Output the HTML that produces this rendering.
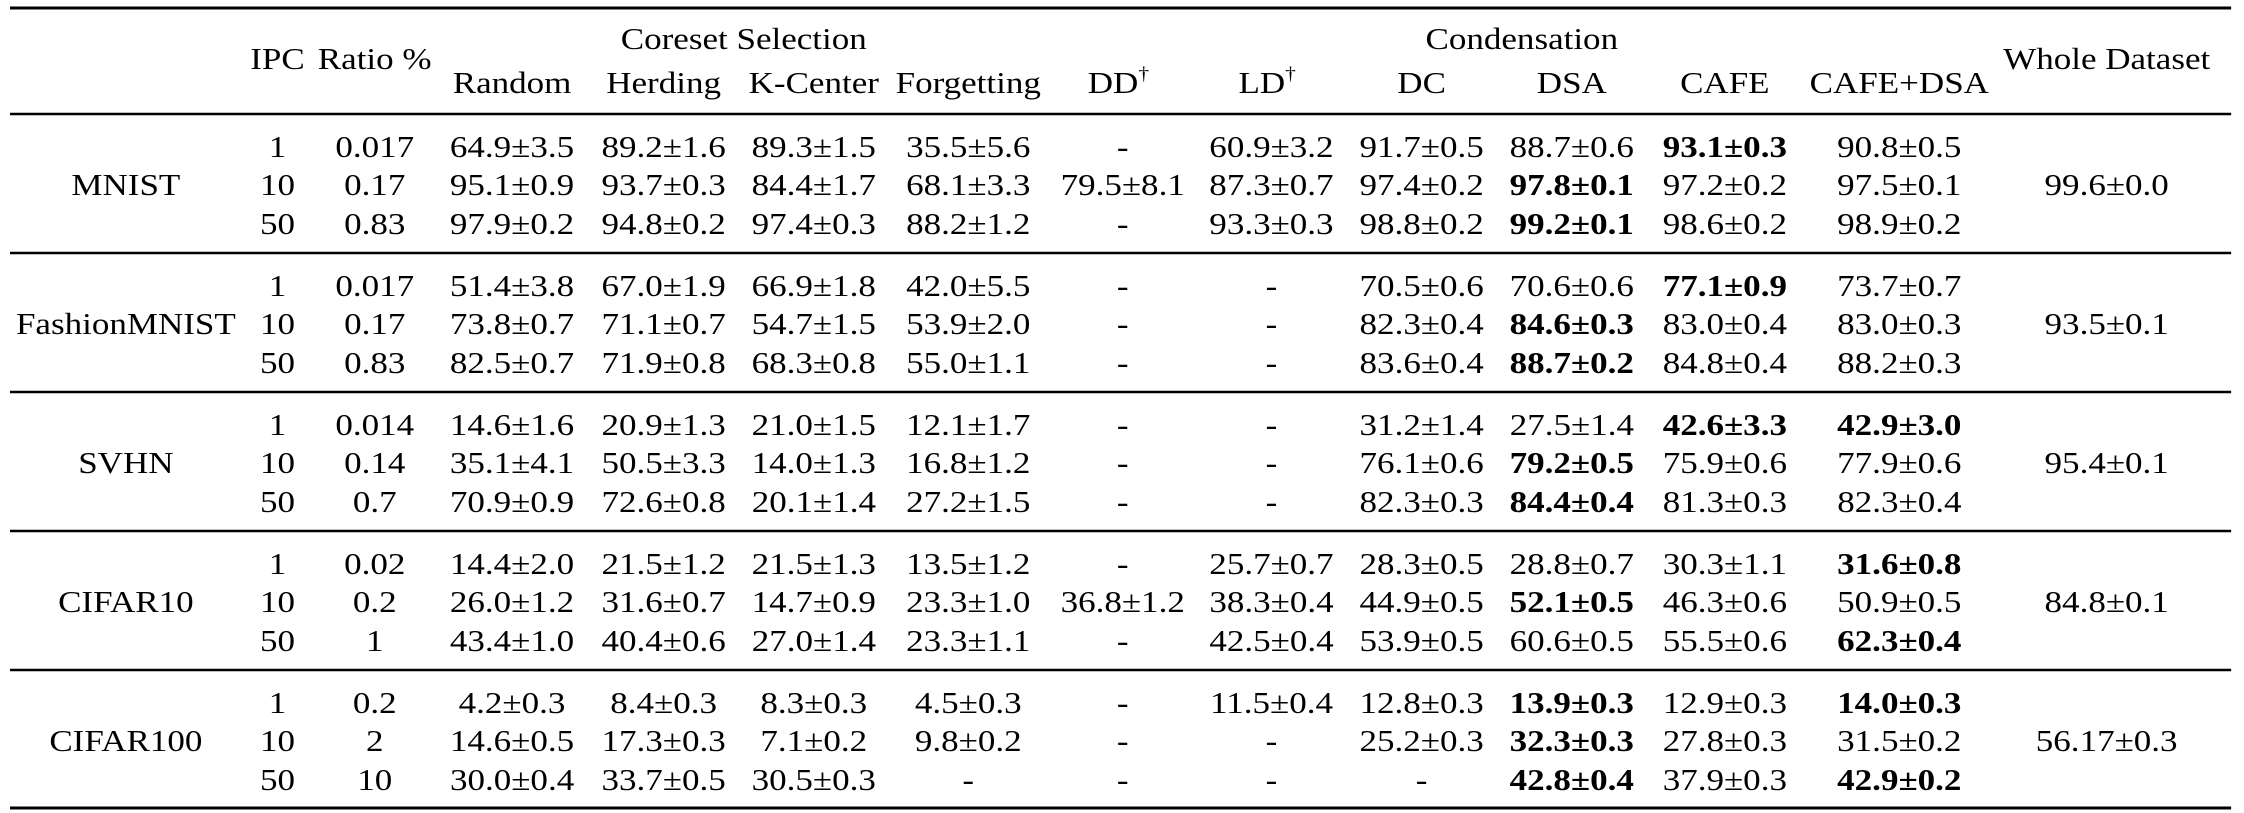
<!DOCTYPE html>
<html><head><meta charset="utf-8"><style>
html,body{margin:0;padding:0;background:#fff;width:2244px;height:813px;overflow:hidden}
svg{display:block}
text{font-family:"Liberation Serif",serif;font-size:31px;fill:#000;text-anchor:middle;transform-box:fill-box;transform-origin:center;transform:scaleX(0.79)}
.b{font-weight:bold}
</style></head><body>
<svg width="2244" height="813" viewBox="0 0 1569 813" preserveAspectRatio="none" xmlns="http://www.w3.org/2000/svg">
<g stroke="#000">
<line x1="7" x2="1560" y1="8" y2="8" stroke-width="3"/>
<line x1="7" x2="1560" y1="114" y2="114" stroke-width="2.5"/>
<line x1="7" x2="1560" y1="253" y2="253" stroke-width="2.5"/>
<line x1="7" x2="1560" y1="392" y2="392" stroke-width="2.5"/>
<line x1="7" x2="1560" y1="531" y2="531" stroke-width="2.5"/>
<line x1="7" x2="1560" y1="670" y2="670" stroke-width="2.5"/>
<line x1="7" x2="1560" y1="808" y2="808" stroke-width="3"/>
</g>
<text x="520" y="49">Coreset Selection</text>
<text x="1064" y="49">Condensation</text>
<text x="194" y="69">IPC</text>
<text x="262" y="69">Ratio %</text>
<text x="1473" y="69">Whole Dataset</text>
<text x="358" y="93">Random</text><text x="464" y="93">Herding</text><text x="569" y="93">K-Center</text><text x="677" y="93">Forgetting</text>
<text x="782" y="93">DD<tspan font-size="19" dy="-13">†</tspan></text>
<text x="886" y="93">LD<tspan font-size="19" dy="-13">†</tspan></text>
<text x="994" y="93">DC</text><text x="1099" y="93">DSA</text><text x="1206" y="93">CAFE</text><text x="1328" y="93">CAFE+DSA</text>

<!-- MNIST -->
<text x="88" y="195">MNIST</text><text x="1473" y="195">99.6±0.0</text>
<text x="194" y="157">1</text><text x="262" y="157">0.017</text><text x="358" y="157">64.9±3.5</text><text x="464" y="157">89.2±1.6</text><text x="569" y="157">89.3±1.5</text><text x="677" y="157">35.5±5.6</text><text x="785" y="157">-</text><text x="889" y="157">60.9±3.2</text><text x="994" y="157">91.7±0.5</text><text x="1099" y="157">88.7±0.6</text><text x="1206" y="157" class="b">93.1±0.3</text><text x="1328" y="157">90.8±0.5</text>
<text x="194" y="195">10</text><text x="262" y="195">0.17</text><text x="358" y="195">95.1±0.9</text><text x="464" y="195">93.7±0.3</text><text x="569" y="195">84.4±1.7</text><text x="677" y="195">68.1±3.3</text><text x="785" y="195">79.5±8.1</text><text x="889" y="195">87.3±0.7</text><text x="994" y="195">97.4±0.2</text><text x="1099" y="195" class="b">97.8±0.1</text><text x="1206" y="195">97.2±0.2</text><text x="1328" y="195">97.5±0.1</text>
<text x="194" y="234">50</text><text x="262" y="234">0.83</text><text x="358" y="234">97.9±0.2</text><text x="464" y="234">94.8±0.2</text><text x="569" y="234">97.4±0.3</text><text x="677" y="234">88.2±1.2</text><text x="785" y="234">-</text><text x="889" y="234">93.3±0.3</text><text x="994" y="234">98.8±0.2</text><text x="1099" y="234" class="b">99.2±0.1</text><text x="1206" y="234">98.6±0.2</text><text x="1328" y="234">98.9±0.2</text>

<!-- FashionMNIST -->
<text x="88" y="334">FashionMNIST</text><text x="1473" y="334">93.5±0.1</text>
<text x="194" y="296">1</text><text x="262" y="296">0.017</text><text x="358" y="296">51.4±3.8</text><text x="464" y="296">67.0±1.9</text><text x="569" y="296">66.9±1.8</text><text x="677" y="296">42.0±5.5</text><text x="785" y="296">-</text><text x="889" y="296">-</text><text x="994" y="296">70.5±0.6</text><text x="1099" y="296">70.6±0.6</text><text x="1206" y="296" class="b">77.1±0.9</text><text x="1328" y="296">73.7±0.7</text>
<text x="194" y="334">10</text><text x="262" y="334">0.17</text><text x="358" y="334">73.8±0.7</text><text x="464" y="334">71.1±0.7</text><text x="569" y="334">54.7±1.5</text><text x="677" y="334">53.9±2.0</text><text x="785" y="334">-</text><text x="889" y="334">-</text><text x="994" y="334">82.3±0.4</text><text x="1099" y="334" class="b">84.6±0.3</text><text x="1206" y="334">83.0±0.4</text><text x="1328" y="334">83.0±0.3</text>
<text x="194" y="373">50</text><text x="262" y="373">0.83</text><text x="358" y="373">82.5±0.7</text><text x="464" y="373">71.9±0.8</text><text x="569" y="373">68.3±0.8</text><text x="677" y="373">55.0±1.1</text><text x="785" y="373">-</text><text x="889" y="373">-</text><text x="994" y="373">83.6±0.4</text><text x="1099" y="373" class="b">88.7±0.2</text><text x="1206" y="373">84.8±0.4</text><text x="1328" y="373">88.2±0.3</text>

<!-- SVHN -->
<text x="88" y="473">SVHN</text><text x="1473" y="473">95.4±0.1</text>
<text x="194" y="435">1</text><text x="262" y="435">0.014</text><text x="358" y="435">14.6±1.6</text><text x="464" y="435">20.9±1.3</text><text x="569" y="435">21.0±1.5</text><text x="677" y="435">12.1±1.7</text><text x="785" y="435">-</text><text x="889" y="435">-</text><text x="994" y="435">31.2±1.4</text><text x="1099" y="435">27.5±1.4</text><text x="1206" y="435" class="b">42.6±3.3</text><text x="1328" y="435" class="b">42.9±3.0</text>
<text x="194" y="473">10</text><text x="262" y="473">0.14</text><text x="358" y="473">35.1±4.1</text><text x="464" y="473">50.5±3.3</text><text x="569" y="473">14.0±1.3</text><text x="677" y="473">16.8±1.2</text><text x="785" y="473">-</text><text x="889" y="473">-</text><text x="994" y="473">76.1±0.6</text><text x="1099" y="473" class="b">79.2±0.5</text><text x="1206" y="473">75.9±0.6</text><text x="1328" y="473">77.9±0.6</text>
<text x="194" y="512">50</text><text x="262" y="512">0.7</text><text x="358" y="512">70.9±0.9</text><text x="464" y="512">72.6±0.8</text><text x="569" y="512">20.1±1.4</text><text x="677" y="512">27.2±1.5</text><text x="785" y="512">-</text><text x="889" y="512">-</text><text x="994" y="512">82.3±0.3</text><text x="1099" y="512" class="b">84.4±0.4</text><text x="1206" y="512">81.3±0.3</text><text x="1328" y="512">82.3±0.4</text>

<!-- CIFAR10 -->
<text x="88" y="612">CIFAR10</text><text x="1473" y="612">84.8±0.1</text>
<text x="194" y="574">1</text><text x="262" y="574">0.02</text><text x="358" y="574">14.4±2.0</text><text x="464" y="574">21.5±1.2</text><text x="569" y="574">21.5±1.3</text><text x="677" y="574">13.5±1.2</text><text x="785" y="574">-</text><text x="889" y="574">25.7±0.7</text><text x="994" y="574">28.3±0.5</text><text x="1099" y="574">28.8±0.7</text><text x="1206" y="574">30.3±1.1</text><text x="1328" y="574" class="b">31.6±0.8</text>
<text x="194" y="612">10</text><text x="262" y="612">0.2</text><text x="358" y="612">26.0±1.2</text><text x="464" y="612">31.6±0.7</text><text x="569" y="612">14.7±0.9</text><text x="677" y="612">23.3±1.0</text><text x="785" y="612">36.8±1.2</text><text x="889" y="612">38.3±0.4</text><text x="994" y="612">44.9±0.5</text><text x="1099" y="612" class="b">52.1±0.5</text><text x="1206" y="612">46.3±0.6</text><text x="1328" y="612">50.9±0.5</text>
<text x="194" y="651">50</text><text x="262" y="651">1</text><text x="358" y="651">43.4±1.0</text><text x="464" y="651">40.4±0.6</text><text x="569" y="651">27.0±1.4</text><text x="677" y="651">23.3±1.1</text><text x="785" y="651">-</text><text x="889" y="651">42.5±0.4</text><text x="994" y="651">53.9±0.5</text><text x="1099" y="651">60.6±0.5</text><text x="1206" y="651">55.5±0.6</text><text x="1328" y="651" class="b">62.3±0.4</text>

<!-- CIFAR100 -->
<text x="88" y="751">CIFAR100</text><text x="1473" y="751">56.17±0.3</text>
<text x="194" y="713">1</text><text x="262" y="713">0.2</text><text x="358" y="713">4.2±0.3</text><text x="464" y="713">8.4±0.3</text><text x="569" y="713">8.3±0.3</text><text x="677" y="713">4.5±0.3</text><text x="785" y="713">-</text><text x="889" y="713">11.5±0.4</text><text x="994" y="713">12.8±0.3</text><text x="1099" y="713" class="b">13.9±0.3</text><text x="1206" y="713">12.9±0.3</text><text x="1328" y="713" class="b">14.0±0.3</text>
<text x="194" y="751">10</text><text x="262" y="751">2</text><text x="358" y="751">14.6±0.5</text><text x="464" y="751">17.3±0.3</text><text x="569" y="751">7.1±0.2</text><text x="677" y="751">9.8±0.2</text><text x="785" y="751">-</text><text x="889" y="751">-</text><text x="994" y="751">25.2±0.3</text><text x="1099" y="751" class="b">32.3±0.3</text><text x="1206" y="751">27.8±0.3</text><text x="1328" y="751">31.5±0.2</text>
<text x="194" y="790">50</text><text x="262" y="790">10</text><text x="358" y="790">30.0±0.4</text><text x="464" y="790">33.7±0.5</text><text x="569" y="790">30.5±0.3</text><text x="677" y="790">-</text><text x="785" y="790">-</text><text x="889" y="790">-</text><text x="994" y="790">-</text><text x="1099" y="790" class="b">42.8±0.4</text><text x="1206" y="790">37.9±0.3</text><text x="1328" y="790" class="b">42.9±0.2</text>
</svg>
</body></html>
